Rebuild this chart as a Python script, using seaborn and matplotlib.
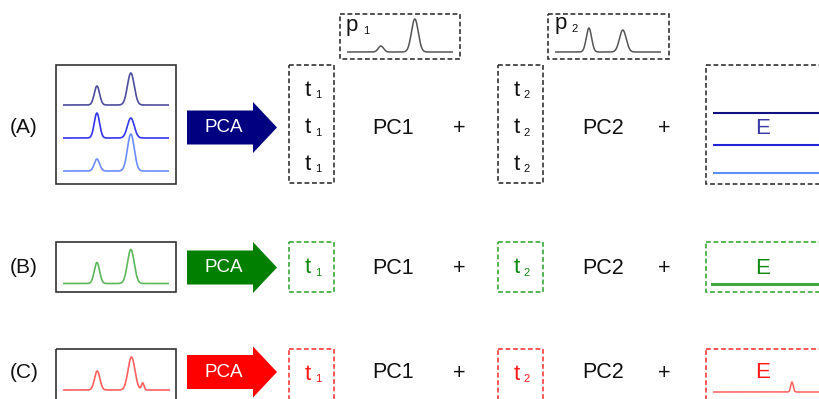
import numpy as np
import pandas as pd
import matplotlib
matplotlib.use("Agg")
import matplotlib.pyplot as plt
import seaborn as sns
from matplotlib.patches import Rectangle, Polygon

sns.set_style("white")
plt.rcParams['font.family'] = ['Liberation Sans', 'DejaVu Sans']

# ---------------- data ----------------
row_labels = ["(A)", "(B)", "(C)"]
arrow_label = "PCA"
pc_labels = ["PC1", "PC2"]
score_labels = ["t", "t"]
score_subs = ["1", "2"]
loading_labels = ["p", "p"]
loading_subs = ["1", "2"]
residual_label = "E"

# retention axis in percent of the plotted window
peak_pos = [32, 64]
peak_sigma = [2.5, 3.2]
# peak heights (intensity units)
A_heights = [[19, 32], [25, 20], [12, 37]]
B_heights = [[21, 34]]
C_heights = [[19, 33]]
C_shoulder_pos, C_shoulder_h, C_shoulder_sigma = 74.5, 7, 1.2
p1_heights = [6, 33]
p2_heights = [24, 22]
E_C_bump_h = 10

A_colors = ["#4d4d9e", "#3535ee", "#6c8dff"]
E_A_colors = ["#101080", "#2525d8", "#5a8ef2"]
row_colors = ["#000080", "#007f00", "#ff0000"]
spec_colors = [None, "#5cb85c", "#ff6060"]
dash_colors = ["#2a2a2a", "#2ea52e", "#ff3535"]
E_text_colors = ["#3a3aa8", "#138a13", "#ff1a1a"]

W, H = 819, 399
fig = plt.figure(figsize=(W / 100, H / 100), dpi=100)
ax = fig.add_axes([0, 0, 1, 1])
ax.set_xlim(0, W)
ax.set_ylim(H, 0)
ax.axis("off")

retention = np.linspace(0, 100, 501)


def peaks(heights, extra=None):
    y = np.zeros_like(retention)
    for pos, sig, h in zip(peak_pos, peak_sigma, heights):
        y += h * np.exp(-0.5 * ((retention - pos) / sig) ** 2)
    if extra is not None:
        pos, h, sig = extra
        y += h * np.exp(-0.5 * ((retention - pos) / sig) ** 2)
    return y


def spec_axes(x0, x1, ybase, height=45, below=3):
    a = fig.add_axes([x0 / W, (H - ybase - below) / H, (x1 - x0) / W, (height + below) / H])
    a.set_xlim(0, 100)
    a.set_ylim(-below, height)
    a.axis("off")
    a.patch.set_alpha(0)
    return a


def draw_curve(a, y, color, lw=1.0):
    df = pd.DataFrame({"rt": retention, "I": y})
    sns.lineplot(data=df, x="rt", y="I", ax=a, color=color, lw=lw, estimator=None, sort=False)


def dbox(x0, y0, x1, y1, color, lw=1.15):
    ax.add_patch(Rectangle((x0, y0), x1 - x0, y1 - y0, fill=False, edgecolor=color,
                           lw=lw, linestyle=(0, (3.0, 1.7))))


def sbox(x0, y0, x1, y1):
    ax.add_patch(Rectangle((x0, y0), x1 - x0, y1 - y0, fill=False, edgecolor="#333333", lw=1.2))


def arrow(yc, color):
    x0, xh, xt = 187, 253, 277
    pts = [(x0, yc - 17), (xh, yc - 17), (xh, yc - 25.5), (xt, yc), (xh, yc + 25.5),
           (xh, yc + 17), (x0, yc + 17)]
    ax.add_patch(Polygon(pts, closed=True, facecolor=color, edgecolor="none"))
    ax.text(224, yc + 0.5, arrow_label, color="white", fontsize=13.5, ha="center", va="center")


def score(xc, sub, base, color):
    ax.text(xc, base, "t", fontsize=16, color=color, ha="center", va="baseline")
    ax.text(xc + 10, base + 2.5, sub, fontsize=8, color=color, ha="center", va="baseline")


row_y = [127.5, 267.5, 372]
box_tops = [65, 242, 349]
box_bots = [184, 292, 420]

for i, yc in enumerate(row_y):
    ax.text(24, yc, row_labels[i], fontsize=15, ha="center", va="center", color="#111111")
    sbox(56, box_tops[i], 176, box_bots[i])
    arrow(yc, row_colors[i])
    dc = dash_colors[i]
    dbox(289, box_tops[i], 334, box_bots[i] - (1 if i == 0 else 0), dc)
    dbox(498, box_tops[i], 543, box_bots[i] - (1 if i == 0 else 0), dc)
    dbox(706, box_tops[i], 830, box_bots[i], dc)
    ax.text(393, yc + 0.5, pc_labels[0], fontsize=15.5, ha="center", va="center", color="#111111")
    ax.text(459, yc + 1.5, "+", fontsize=15.5, ha="center", va="center", color="#111111")
    ax.text(603, yc + 0.5, pc_labels[1], fontsize=15.5, ha="center", va="center", color="#111111")
    ax.text(664, yc + 1.5, "+", fontsize=15.5, ha="center", va="center", color="#111111")
    ax.text(763, yc + 0.5, residual_label, fontsize=16, ha="center", va="center",
            color=E_text_colors[i])

# scores
score_colors = ["#111111", "#108a10", "#ff1a1a"]
A_bases = [96, 133, 170]
for b in A_bases:
    score(308, score_subs[0], b, score_colors[0])
    score(517, score_subs[1], b, score_colors[0])
score(308, score_subs[0], 273, score_colors[1])
score(517, score_subs[1], 273, score_colors[1])
score(308, score_subs[0], 380, score_colors[2])
score(517, score_subs[1], 380, score_colors[2])

# loadings boxes
dbox(340, 14, 460, 59, "#2a2a2a")
dbox(548, 14, 669, 59, "#2a2a2a")
ax.text(346, 31, loading_labels[0], fontsize=16, ha="left", va="baseline", color="#111111")
ax.text(363, 33.5, loading_subs[0], fontsize=8, ha="left", va="baseline", color="#111111")
ax.text(555, 29, loading_labels[1], fontsize=16, ha="left", va="baseline", color="#111111")
ax.text(571, 31.5, loading_subs[1], fontsize=8, ha="left", va="baseline", color="#111111")

a = spec_axes(347, 453, 52)
draw_curve(a, peaks(p1_heights), "#555555", lw=1.1)
a = spec_axes(555, 661, 52)
draw_curve(a, peaks(p2_heights), "#555555", lw=1.1)

# raw data spectra
for base, hts, col in zip([105, 138, 171], A_heights, A_colors):
    a = spec_axes(63, 169, base)
    draw_curve(a, peaks(hts), col, lw=1.2)
a = spec_axes(63, 169, 283.5)
draw_curve(a, peaks(B_heights[0]), spec_colors[1], lw=1.2)
a = spec_axes(63, 170, 390)
draw_curve(a, peaks(C_heights[0], (C_shoulder_pos, C_shoulder_h, C_shoulder_sigma)),
           spec_colors[2], lw=1.2)

# residuals E
for base, col in zip([113, 145, 173], E_A_colors):
    a = spec_axes(713, 819, base)
    draw_curve(a, np.zeros_like(retention), col, lw=1.5)
a = spec_axes(711, 819, 284)
draw_curve(a, np.zeros_like(retention), "#3fa83f", lw=2.2)
a = spec_axes(713, 819, 392)
bump = E_C_bump_h * np.exp(-0.5 * ((retention - C_shoulder_pos) / C_shoulder_sigma) ** 2)
draw_curve(a, bump, "#ff6060", lw=1.1)

fig.savefig("out.png", dpi=100)
